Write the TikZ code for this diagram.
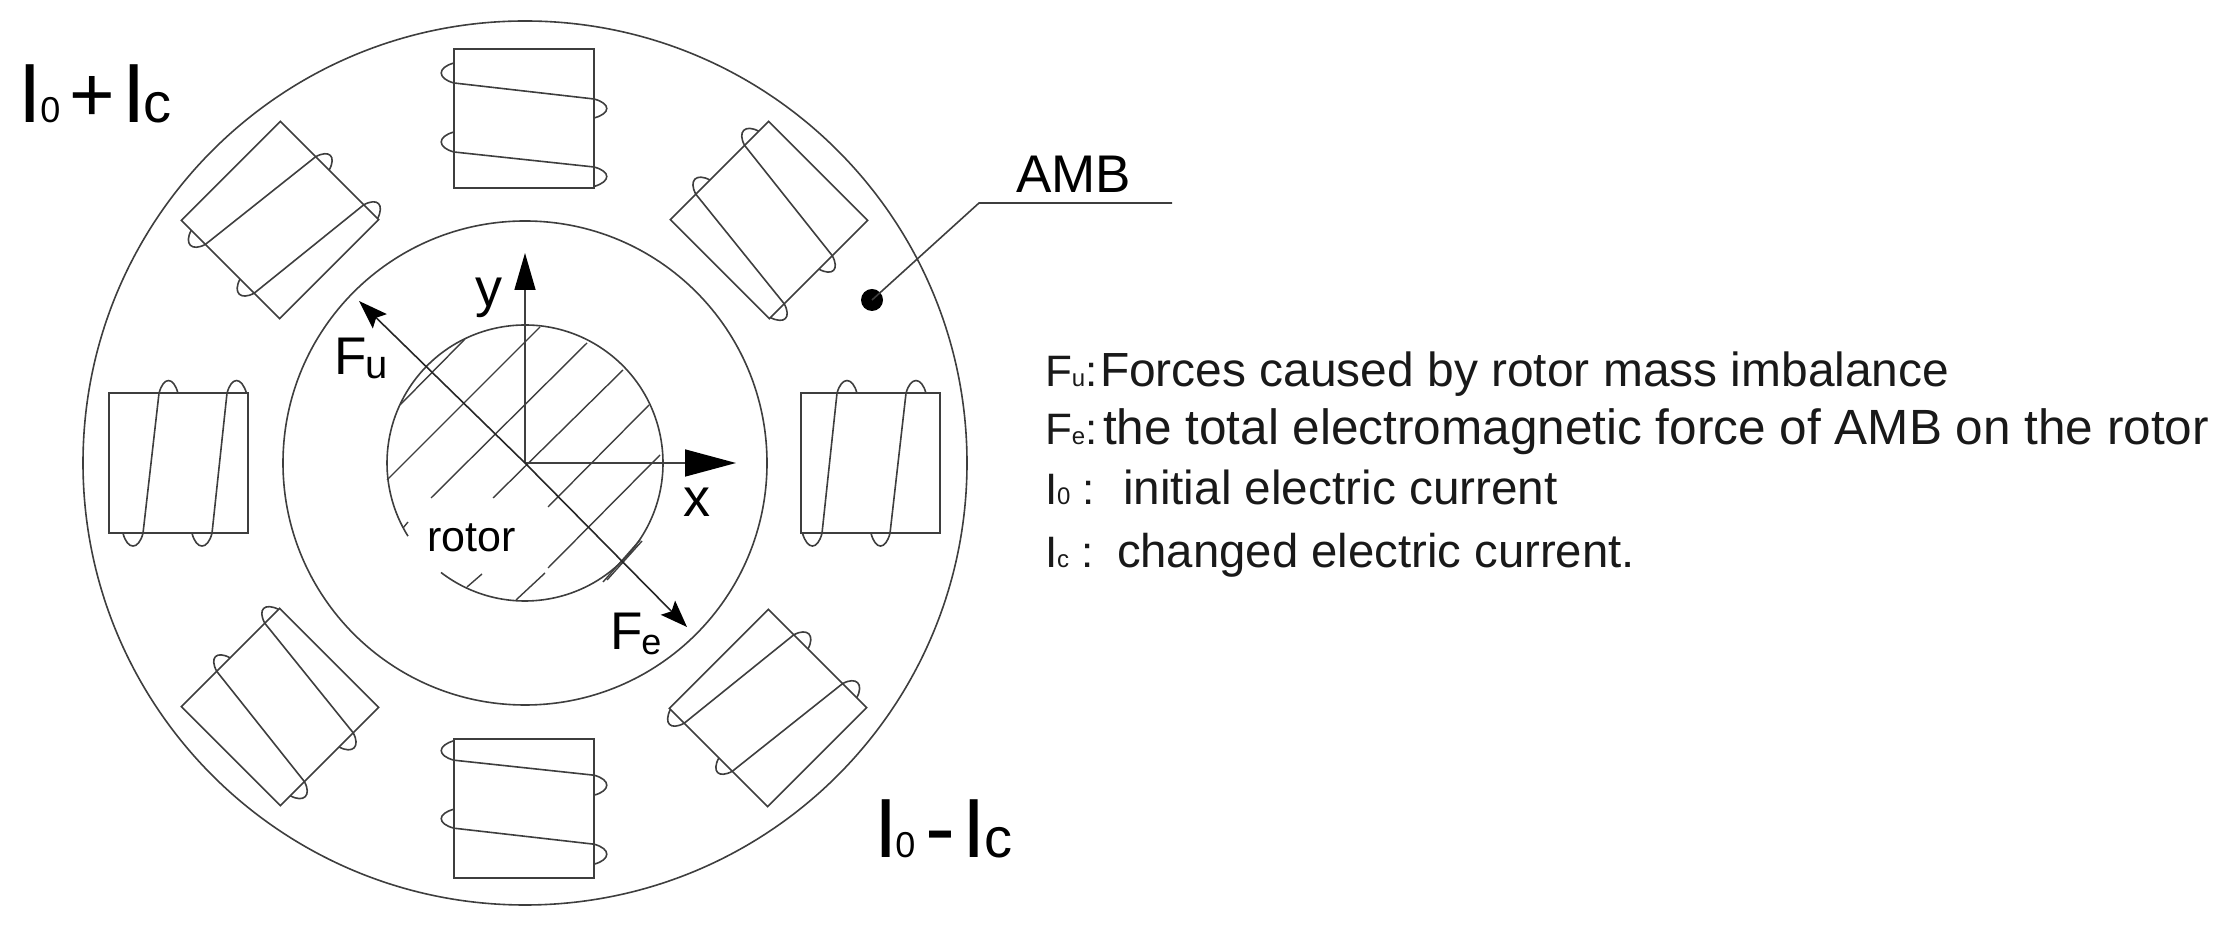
\documentclass[tikz,border=0pt]{standalone}
\usepackage{fontspec}
\setmainfont{Liberation Sans}
\usetikzlibrary{arrows.meta}
\definecolor{inkgrey}{RGB}{62,62,62}
\newcommand{\fs}[1]{\fontsize{#1}{#1}\selectfont}
\tikzset{
  ln/.style={draw=inkgrey,line width=1.6pt},
  hatchline/.style={draw=inkgrey,line width=1.4pt},
  lab/.style={anchor=base west,inner sep=0pt,outer sep=0pt,text=black},
  legend/.style={lab,text=black!90},
  axisarrow/.style={draw=black!75,line width=1.6pt},
}
\newcommand{\polecoil}[4]{%
  \begin{scope}[shift={(#1,#2)},y=1pt,rotate=#3]
    \draw[ln] (-70,-69.5) rectangle (70,69.5);
    \draw[ln] (-70,55.5) .. controls (-#4,51) and (-#4,40) .. (-70,35.5) -- (70,19.5) .. controls (#4,15) and (#4,5) .. (70,.5);
    \draw[ln] (-70,-13.5) .. controls (-#4,-18) and (-#4,-29) .. (-70,-33.5) -- (70,-48.5) .. controls (#4,-53) and (#4,-63) .. (70,-68);
  \end{scope}}
% prefix box width, letter, subscript, colon part, body size, body
\newcommand{\legline}[6]{\makebox[#1pt][l]{{\fs{44}#2}{\fs{24}#3}{\fs{44}#4}}{\fs{#5}#6}}
\begin{document}
\begin{tikzpicture}[x=1pt,y=1pt]
\useasboundingbox (0,0) rectangle (2232,931);
\begin{scope}[x=1pt,y=-1pt,shift={(0pt,931pt)}]
  \coordinate (O) at (525,463);
  % circles
  \draw[ln] (O) circle[radius=442];
  \draw[ln] (O) circle[radius=242];
  \begin{scope}[shift={(525,463)},y=1pt]
    \draw[ln] (232.5:138) arc[start angle=232.5,end angle=572,radius=138];
  \end{scope}
  % poles
  \polecoil{524}{118.5}{0}{87}
  \polecoil{524}{808.7}{180}{87}
  \polecoil{178.5}{463.3}{90}{87}
  \polecoil{870.5}{463.3}{-90}{87}
  \polecoil{280}{220}{45}{85}
  \polecoil{769}{220}{-45}{85}
  \polecoil{280}{707}{135}{85}
  \polecoil{768}{708}{-135}{85}
  % hatching
  \draw[hatchline] (400,405) -- (465,339);
  \draw[hatchline] (387,480) -- (540,327);
  \draw[hatchline] (431,498) -- (587,343);
  \draw[hatchline] (493,498) -- (623,370);
  \draw[hatchline] (548,507) -- (649,405);
  \draw[hatchline] (516,600) -- (545,573);
  \draw[hatchline] (548,568) -- (660,455);
  \draw[hatchline] (467,587) -- (482,574);
  \draw[hatchline] (403,528) -- (408,522);
  \draw[hatchline] (603,582) -- (640,540);
  \draw[hatchline] (607,580) -- (642,541);
  % rotor label
  \node[lab] (rotorlabel) at (427,552) {\fs{43}rotor};
  % axes
  \coordinate (ytip) at (525,253);
  \coordinate (xtip) at (736,463);
  \coordinate (futip) at (359,301);
  \coordinate (fetip) at (687,627);
  \draw[axisarrow,-{Triangle[length=37pt,width=21pt,fill=black,color=black]}] (O) -- (ytip);
  \draw[axisarrow,-{Triangle[length=51pt,width=27pt,fill=black,color=black]}] (O) -- (xtip);
  \draw[axisarrow,draw=black!85,-{Stealth[length=29pt,width=20pt,inset=5pt,fill=black,color=black]}] (O) -- (futip);
  \draw[axisarrow,draw=black!85,-{Stealth[length=27pt,width=20pt,inset=5pt,fill=black,color=black]}] (O) -- (fetip);
  \node[lab] (ylabel) at (475,307) {\fs{54}y};
  \node[lab] (xlabel) at (683,517) {\fs{54}x};
  \node[lab] (fulabel) at (334,375) {\fs{53}F\kern-1pt\raisebox{-4pt}{\fs{40}u}};
  \node[lab] (felabel) at (610,650) {\fs{53}F\kern-1pt\raisebox{-5pt}{\fs{36}e}};
  % current labels
  \node[lab] (ipluslabel) at (19,123) {\fs{84}I\kern-2pt{\fs{36}0}\kern9.6pt\raisebox{1pt}{\fs{78}+}\kern7pt\fs{84}I\kern-2pt{\fs{56}c}};
  \node[lab] (iminuslabel) at (874,858) {\fs{84}I\kern-2pt{\fs{36}0}\kern10pt\raisebox{-1pt}{\fs{90}-}\kern7pt\fs{84}I\kern-1.4pt{\fs{56}c}};
  % AMB leader
  \node[circle,fill=black,inner sep=0pt,minimum size=22pt] (dot) at (872,300) {};
  \coordinate (elbow) at (979,203);
  \coordinate (leaderend) at (1172,203);
  \draw[ln] (dot.center) -- (elbow) -- (leaderend);
  \node[lab] (amb) at (1016,193) {\fs{53}AMB};
  % legend
  \node[legend] (l1) at (1045,387) {\legline{55}{F}{u}{:}{47.9}{Forces caused by rotor mass imbalance}};
  \node[legend] (l2) at (1045,445) {\legline{58}{F}{e}{:}{49.5}{the total electromagnetic force of AMB on the rotor}};
  \node[legend] (l3) at (1045,505) {\legline{78}{I}{0}{ :}{47.7}{initial electric current}};
  \node[legend] (l4) at (1045,568) {\legline{72}{I}{c}{ :}{47.3}{changed electric current.}};
\end{scope}
\end{tikzpicture}
\end{document}
